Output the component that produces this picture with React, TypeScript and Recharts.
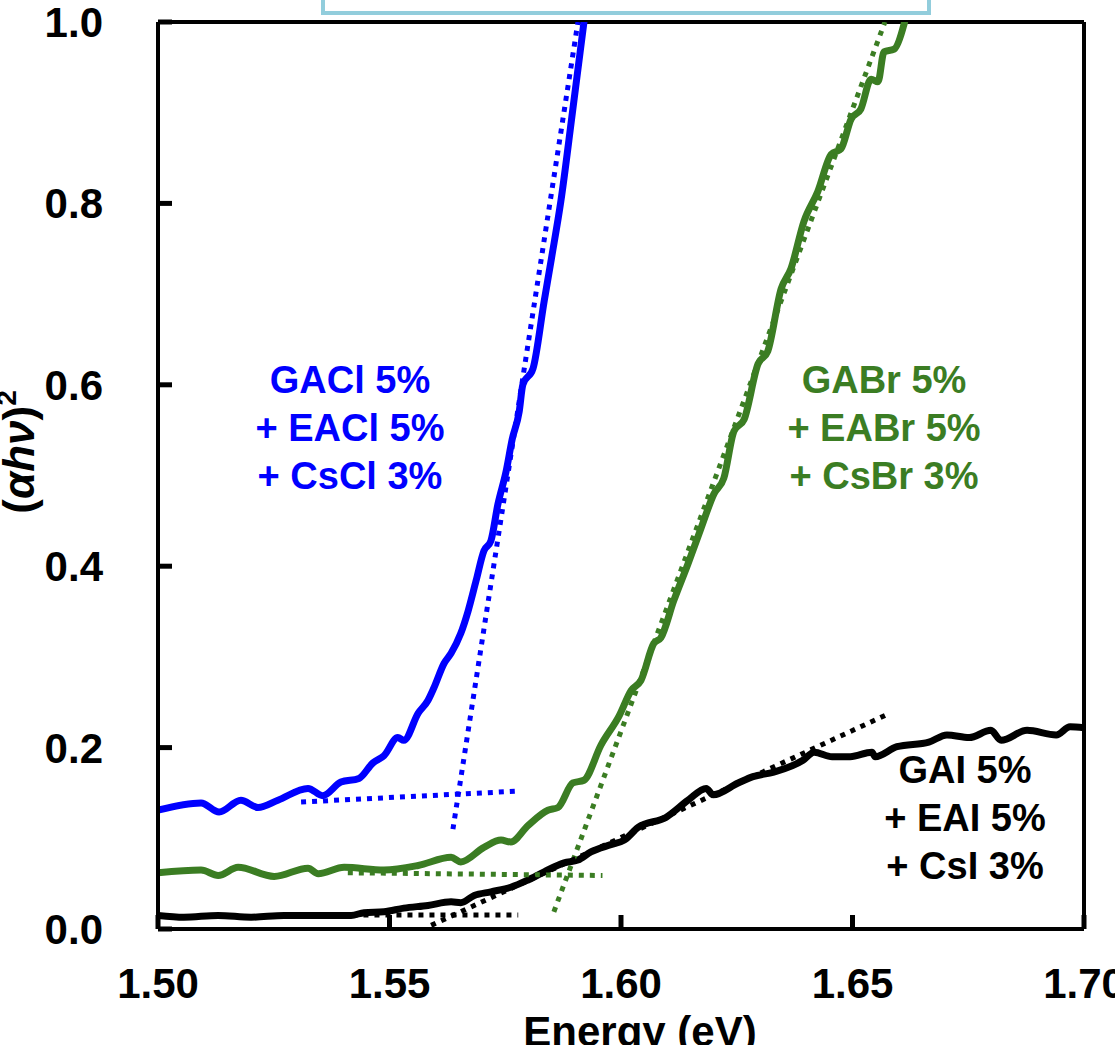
import React from 'react'
import { LineChart, Line, XAxis, YAxis, ReferenceLine } from 'recharts'

const FONT = "'Liberation Sans', Arial, Helvetica, sans-serif"
const BLUE = '#0000ff'
const GREEN = '#3b7d23'
const BLACK = '#000000'

const energyTicks = [1.5, 1.55, 1.6, 1.65, 1.7]
const absTicks = [0, 0.2, 0.4, 0.6, 0.8, 1.0]

// GACl 5% + EACl 5% + CsCl 3%
const clEnergy = [1.5, 1.5093, 1.5132, 1.5179, 1.5216, 1.5259, 1.5324, 1.5356, 1.5395, 1.5434, 1.5464, 1.5488, 1.5518, 1.5531, 1.5562, 1.5583, 1.5596, 1.5618, 1.5633, 1.5654, 1.567, 1.5687, 1.5704, 1.5719, 1.5734, 1.5752, 1.5765, 1.578, 1.5788, 1.581, 1.5834, 1.585, 1.587, 1.5895, 1.592, 1.5935]
const clAbs = [0.131, 0.139, 0.129, 0.142, 0.134, 0.142, 0.155, 0.147, 0.162, 0.166, 0.183, 0.191, 0.211, 0.208, 0.238, 0.252, 0.266, 0.293, 0.304, 0.326, 0.351, 0.384, 0.417, 0.428, 0.468, 0.505, 0.54, 0.57, 0.6, 0.618, 0.692, 0.74, 0.802, 0.9, 1.0, 1.06]

// GABr 5% + EABr 5% + CsBr 3%
const brEnergy = [1.5, 1.5093, 1.513, 1.5173, 1.5251, 1.5324, 1.5346, 1.5402, 1.5488, 1.5562, 1.5633, 1.5654, 1.5704, 1.5741, 1.5762, 1.5799, 1.5842, 1.5864, 1.5896, 1.592, 1.5957, 1.5996, 1.6022, 1.6043, 1.6071, 1.6086, 1.6114, 1.6145, 1.6173, 1.6201, 1.6222, 1.6244, 1.6266, 1.6296, 1.6317, 1.6346, 1.6367, 1.6395, 1.6425, 1.6454, 1.6475, 1.6497, 1.6518, 1.654, 1.6555, 1.6568, 1.659, 1.6611, 1.6625]
const brAbs = [0.062, 0.065, 0.059, 0.068, 0.058, 0.067, 0.061, 0.068, 0.065, 0.07, 0.079, 0.074, 0.09, 0.098, 0.096, 0.114, 0.131, 0.134, 0.161, 0.164, 0.203, 0.235, 0.263, 0.274, 0.315, 0.321, 0.362, 0.403, 0.442, 0.48, 0.497, 0.549, 0.562, 0.623, 0.637, 0.706, 0.728, 0.78, 0.813, 0.854, 0.86, 0.893, 0.904, 0.937, 0.934, 0.967, 0.97, 0.997, 1.03]

// GAI 5% + EAI 5% + CsI 3%
const iEnergy = [1.5, 1.5056, 1.513, 1.5201, 1.5272, 1.5346, 1.5417, 1.5445, 1.5488, 1.5531, 1.5583, 1.5633, 1.5654, 1.5683, 1.5719, 1.5762, 1.5799, 1.5834, 1.5877, 1.5907, 1.5935, 1.5978, 1.6007, 1.6037, 1.6097, 1.6145, 1.6184, 1.6199, 1.6253, 1.6285, 1.633, 1.6393, 1.6417, 1.6456, 1.6495, 1.6542, 1.6549, 1.6596, 1.6665, 1.6704, 1.6752, 1.6799, 1.6821, 1.6877, 1.694, 1.697, 1.7]
const iAbs = [0.015, 0.013, 0.015, 0.013, 0.015, 0.015, 0.015, 0.018, 0.019, 0.023, 0.026, 0.03, 0.029, 0.037, 0.041, 0.046, 0.054, 0.063, 0.073, 0.076, 0.085, 0.093, 0.098, 0.112, 0.123, 0.142, 0.155, 0.148, 0.161, 0.168, 0.173, 0.186, 0.195, 0.19, 0.19, 0.195, 0.19, 0.201, 0.206, 0.214, 0.211, 0.219, 0.208, 0.219, 0.214, 0.223, 0.222]

// Tauc fits: band edge and baseline for each sample
const clEdgeE = [1.5637, 1.5907]
const clEdgeV = [0.11, 1.0]
const clBaseE = [1.5309, 1.5778]
const clBaseV = [0.14, 0.152]
const brEdgeE = [1.5855, 1.657]
const brEdgeV = [0.019, 1.0]
const brBaseE = [1.541, 1.596]
const brBaseV = [0.062, 0.059]
const iEdgeE = [1.559, 1.6581]
const iEdgeV = [0.004, 0.238]
const iBaseE = [1.542, 1.5778]
const iBaseV = [0.0154, 0.0154]

const pts = (xs: number[], ys: number[]) => xs.map((e, i) => ({ e, v: ys[i] }))

const solid = [
  { key: 'cl', data: pts(clEnergy, clAbs), color: BLUE },
  { key: 'br', data: pts(brEnergy, brAbs), color: GREEN },
  { key: 'i', data: pts(iEnergy, iAbs), color: BLACK },
]
const fits = [
  { key: 'clEdge', data: pts(clEdgeE, clEdgeV), color: BLUE },
  { key: 'clBase', data: pts(clBaseE, clBaseV), color: BLUE },
  { key: 'brEdge', data: pts(brEdgeE, brEdgeV), color: GREEN },
  { key: 'brBase', data: pts(brBaseE, brBaseV), color: GREEN },
  { key: 'iEdge', data: pts(iEdgeE, iEdgeV), color: BLACK },
  { key: 'iBase', data: pts(iBaseE, iBaseV), color: BLACK },
]

const notes = [
  { color: BLUE, x: 350, y: 393, lines: ['GACl 5%', '+ EACl 5%', '+ CsCl 3%'] },
  { color: GREEN, x: 884, y: 393, lines: ['GABr 5%', '+ EABr 5%', '+ CsBr 3%'] },
  { color: BLACK, x: 965, y: 783, lines: ['GAI 5%', '+ EAI 5%', '+ CsI 3%'] },
]

const TICK_LEN = 14

// inward tick mark + label below the x axis
const EnergyTick = ({ x, y, payload }: any) => (
  <g>
    <line x1={x} y1={y} x2={x} y2={y - TICK_LEN} stroke="#000" strokeWidth={5} />
    <text x={x} y={y + 69} textAnchor="middle" fill="#000" fontSize={42} fontWeight={700} fontFamily={FONT}>
      {Number(payload.value).toFixed(2)}
    </text>
  </g>
)

// inward tick mark + label left of the y axis
const AbsTick = ({ x, y, payload }: any) => (
  <g>
    <line x1={x} y1={y} x2={x + TICK_LEN} y2={y} stroke="#000" strokeWidth={5} />
    <text x={x - 55} y={y + 15} textAnchor="end" fill="#000" fontSize={42} fontWeight={700} fontFamily={FONT}>
      {Number(payload.value).toFixed(1)}
    </text>
  </g>
)

export default function App() {
  return (
    <div style={{ position: 'absolute', left: 0, top: 0, width: 1115, height: 1045, background: '#fff', overflow: 'hidden' }}>
      <div style={{ position: 'absolute', left: 321, top: -40, width: 610, height: 55, boxSizing: 'border-box', border: '4px solid #92cddc', background: '#fff' }} />
      <LineChart width={1115} height={1045} margin={{ top: 22, right: 31, bottom: 0, left: 0 }}>
        <XAxis
          type="number"
          dataKey="e"
          domain={[1.5, 1.7]}
          ticks={energyTicks}
          interval={0}
          allowDataOverflow
          height={116}
          tickSize={0}
          tickMargin={0}
          axisLine={{ stroke: '#000', strokeWidth: 4 }}
          tickLine={false}
          tick={<EnergyTick />}
        />
        <YAxis
          type="number"
          domain={[0, 1]}
          ticks={absTicks}
          interval={0}
          allowDataOverflow
          width={158}
          tickSize={0}
          tickMargin={0}
          axisLine={{ stroke: '#000', strokeWidth: 4 }}
          tickLine={false}
          tick={<AbsTick />}
        />
        <ReferenceLine y={1} stroke="#000" strokeWidth={4} />
        <ReferenceLine x={1.7} stroke="#000" strokeWidth={4} />
        {solid.map(s => (
          <Line key={s.key} data={s.data} dataKey="v" type="monotone" stroke={s.color} strokeWidth={7} dot={false} activeDot={false} isAnimationActive={false} />
        ))}
        {fits.map(s => (
          <Line key={s.key} data={s.data} dataKey="v" type="linear" stroke={s.color} strokeWidth={5} strokeDasharray="5 6" dot={false} activeDot={false} isAnimationActive={false} />
        ))}
      </LineChart>
      <svg width={1115} height={1045} style={{ position: 'absolute', left: 0, top: 0, pointerEvents: 'none' }}>
        <g fontFamily={FONT} fontWeight={700}>
          {notes.map(n => (
            <text key={n.lines[0]} fill={n.color} fontSize={38} textAnchor="middle">
              {n.lines.map((l, i) => (
                <tspan key={l} x={n.x} y={n.y + i * 48}>{l}</tspan>
              ))}
            </text>
          ))}
          <text x={640} y={1046} fontSize={42} textAnchor="middle" fill="#000">Energy (eV)</text>
          <text transform="translate(34,452) rotate(-90)" fontSize={44} textAnchor="middle" fill="#000">
            (<tspan fontStyle="italic">αhν</tspan>)<tspan fontSize={28} dy={-18}>2</tspan>
          </text>
        </g>
      </svg>
    </div>
  )
}
